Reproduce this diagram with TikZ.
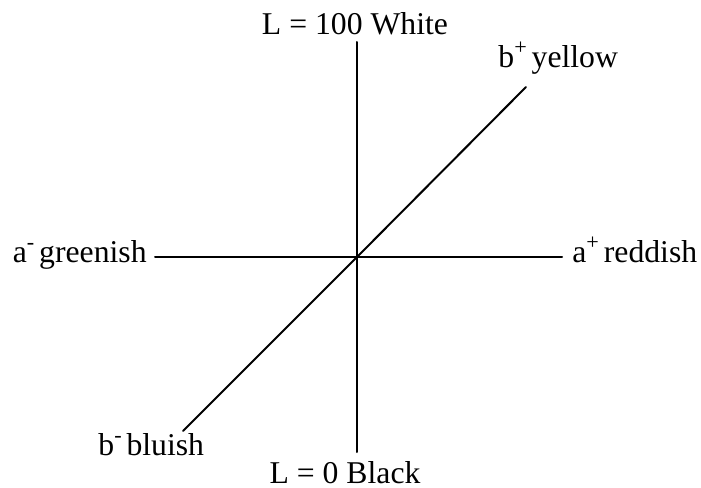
\documentclass[tikz,border=0pt]{standalone}
\usepackage{fontspec}
\setmainfont{Liberation Serif}
\newcommand{\sgn}[1]{\textsuperscript{#1}\kern-2pt\relax}

\begin{document}
\begin{tikzpicture}[x=0.5pt,y=-0.5pt,line cap=round,line join=round,
  axis/.style={line width=1pt},
  lab/.style={inner sep=0pt,font=\fontsize{15.85}{19}\selectfont}]
  \useasboundingbox (0,0) rectangle (701,487);
  \coordinate (O) at (357,257);
  \coordinate (Ltop) at (357,42);
  \coordinate (Lbot) at (357,452);
  \coordinate (aneg) at (155,257);
  \coordinate (apos) at (562,257);
  \coordinate (bpos) at (526,87);
  \coordinate (bneg) at (183,431);
  \draw[axis] (Ltop) -- (O) -- (Lbot);
  \draw[axis] (aneg) -- (O) -- (apos);
  \draw[axis] (bneg) -- (O) -- (bpos);
  \node[lab,anchor=base] (white) at (355,34) {L = 100 White};
  \node[lab,anchor=base] (black) at (345,483) {L = 0 Black};
  \node[lab,anchor=base east] (greenish) at (147,262) {a\sgn{-} greenish};
  \node[lab,anchor=base west] (reddish) at (572,262) {a\sgn{+} reddish};
  \node[lab,anchor=base west] (yellow) at (498,67) {b\sgn{+} yellow};
  \node[lab,anchor=base west] (bluish) at (98,455) {b\sgn{-} bluish};
\end{tikzpicture}
\end{document}
